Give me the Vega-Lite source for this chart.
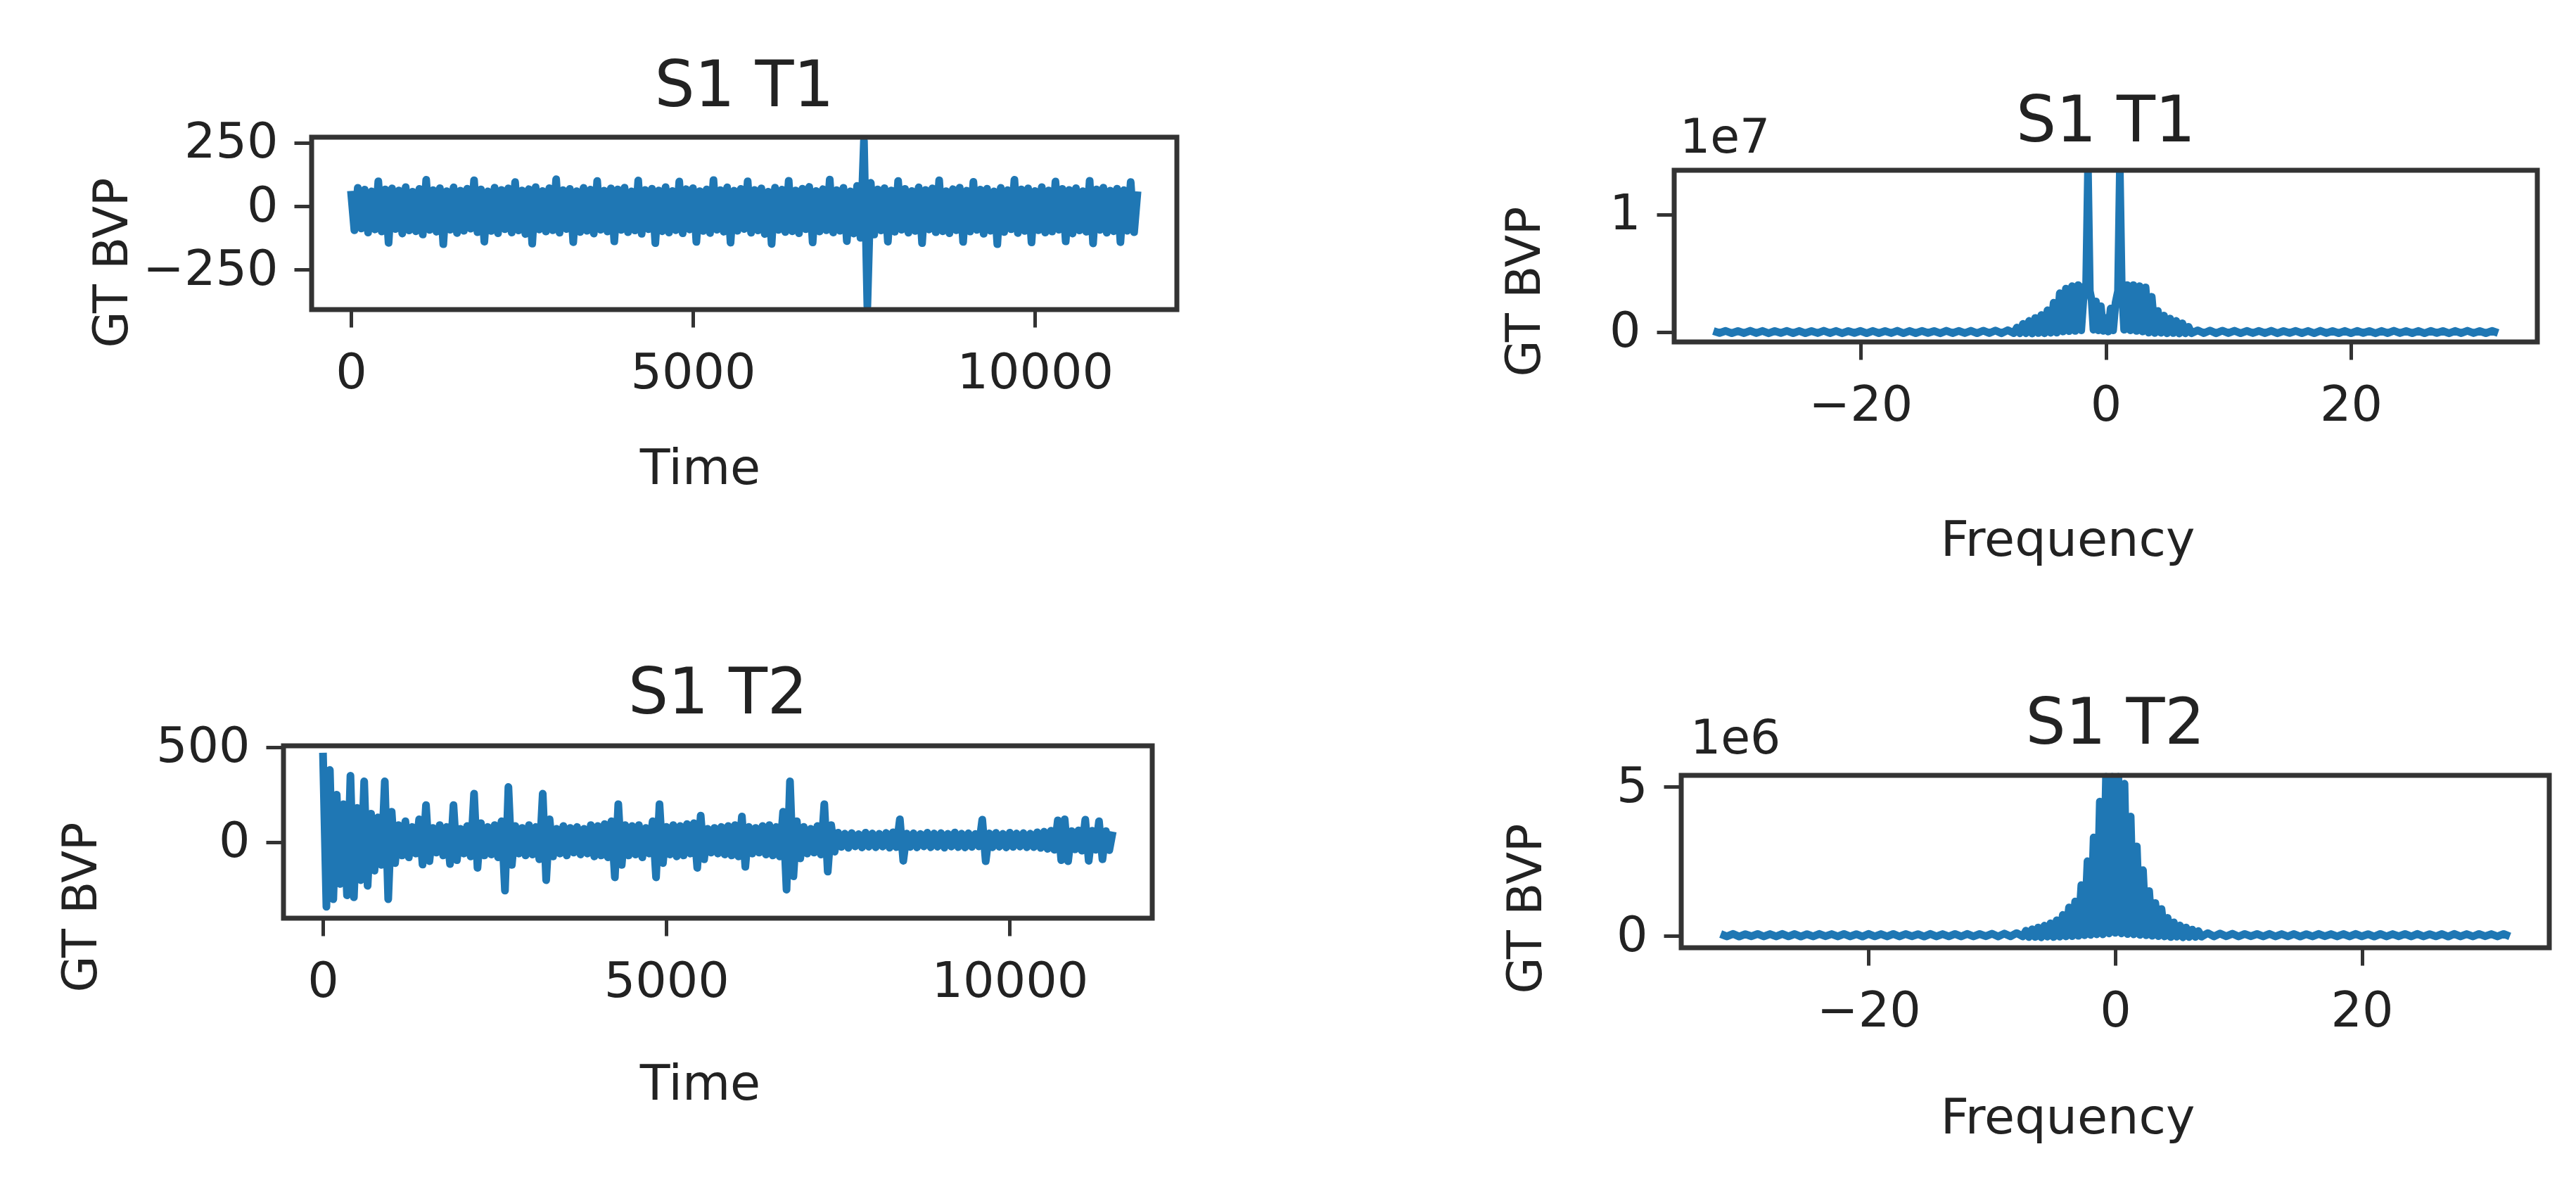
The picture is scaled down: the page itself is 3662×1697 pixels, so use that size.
{
  "$schema": "https://vega.github.io/schema/vega-lite/v6.json",
  "width": 3662,
  "height": 1697,
  "padding": 0,
  "autosize": {"type": "none"},
  "background": "white",
  "config": {
    "view": {"stroke": null},
    "font": "DejaVu Sans",
    "axis": {
      "grid": false,
      "domain": false,
      "tickColor": "#333333",
      "tickWidth": 5,
      "tickSize": 25,
      "labelFont": "DejaVu Sans",
      "labelFontSize": 70,
      "labelColor": "#222222",
      "labelLimit": 0,
      "labelOverlap": false,
      "titleFont": "DejaVu Sans",
      "titleFontWeight": "normal",
      "titleColor": "#222222",
      "titleBaseline": "middle",
      "titleAlign": "center",
      "titleLimit": 0
    },
    "axisX": {"labelPadding": 31, "titleFontSize": 70},
    "axisY": {"labelPadding": 23, "titleFontSize": 67, "titleAngle": -90}
  },
  "datasets": {
    "t1": [
{"t":0,"v":60},{"t":50,"v":-95},{"t":100,"v":72},{"t":150,"v":-88},{"t":200,"v":65},{"t":250,"v":-104},{"t":300,"v":58},{"t":350,"v":-92},{"t":400,"v":98},{"t":450,"v":-100},
{"t":500,"v":66},{"t":550,"v":-145},{"t":600,"v":70},{"t":650,"v":-90},{"t":700,"v":62},{"t":750,"v":-108},{"t":800,"v":75},{"t":850,"v":-96},{"t":900,"v":57},{"t":950,"v":-99},
{"t":1000,"v":68},{"t":1050,"v":-112},{"t":1100,"v":104},{"t":1150,"v":-94},{"t":1200,"v":63},{"t":1250,"v":-101},{"t":1300,"v":71},{"t":1350,"v":-150},{"t":1400,"v":59},{"t":1450,"v":-93},
{"t":1500,"v":74},{"t":1550,"v":-106},{"t":1600,"v":61},{"t":1650,"v":-97},{"t":1700,"v":69},{"t":1750,"v":-89},{"t":1800,"v":102},{"t":1850,"v":-103},{"t":1900,"v":66},{"t":1950,"v":-140},
{"t":2000,"v":58},{"t":2050,"v":-98},{"t":2100,"v":73},{"t":2150,"v":-107},{"t":2200,"v":64},{"t":2250,"v":-91},{"t":2300,"v":70},{"t":2350,"v":-104},{"t":2400,"v":95},{"t":2450,"v":-96},
{"t":2500,"v":62},{"t":2550,"v":-110},{"t":2600,"v":67},{"t":2650,"v":-148},{"t":2700,"v":75},{"t":2750,"v":-92},{"t":2800,"v":60},{"t":2850,"v":-100},{"t":2900,"v":71},{"t":2950,"v":-95},
{"t":3000,"v":106},{"t":3050,"v":-105},{"t":3100,"v":63},{"t":3150,"v":-90},{"t":3200,"v":68},{"t":3250,"v":-142},{"t":3300,"v":59},{"t":3350,"v":-102},{"t":3400,"v":72},{"t":3450,"v":-97},
{"t":3500,"v":65},{"t":3550,"v":-108},{"t":3600,"v":99},{"t":3650,"v":-93},{"t":3700,"v":61},{"t":3750,"v":-100},{"t":3800,"v":70},{"t":3850,"v":-139},{"t":3900,"v":66},{"t":3950,"v":-94},
{"t":4000,"v":73},{"t":4050,"v":-103},{"t":4100,"v":58},{"t":4150,"v":-96},{"t":4200,"v":101},{"t":4250,"v":-109},{"t":4300,"v":64},{"t":4350,"v":-91},{"t":4400,"v":69},{"t":4450,"v":-146},
{"t":4500,"v":62},{"t":4550,"v":-99},{"t":4600,"v":75},{"t":4650,"v":-104},{"t":4700,"v":60},{"t":4750,"v":-95},{"t":4800,"v":97},{"t":4850,"v":-107},{"t":4900,"v":67},{"t":4950,"v":-92},
{"t":5000,"v":71},{"t":5050,"v":-141},{"t":5100,"v":59},{"t":5150,"v":-98},{"t":5200,"v":66},{"t":5250,"v":-106},{"t":5300,"v":103},{"t":5350,"v":-93},{"t":5400,"v":63},{"t":5450,"v":-101},
{"t":5500,"v":74},{"t":5550,"v":-144},{"t":5600,"v":61},{"t":5650,"v":-97},{"t":5700,"v":68},{"t":5750,"v":-90},{"t":5800,"v":98},{"t":5850,"v":-105},{"t":5900,"v":64},{"t":5950,"v":-96},
{"t":6000,"v":70},{"t":6050,"v":-110},{"t":6100,"v":57},{"t":6150,"v":-149},{"t":6200,"v":73},{"t":6250,"v":-94},{"t":6300,"v":65},{"t":6350,"v":-102},{"t":6400,"v":100},{"t":6450,"v":-99},
{"t":6500,"v":62},{"t":6550,"v":-107},{"t":6600,"v":69},{"t":6650,"v":-91},{"t":6700,"v":76},{"t":6750,"v":-143},{"t":6800,"v":60},{"t":6850,"v":-100},{"t":6900,"v":67},{"t":6950,"v":-95},
{"t":7000,"v":105},{"t":7050,"v":-104},{"t":7100,"v":63},{"t":7150,"v":-97},{"t":7200,"v":72},{"t":7250,"v":-138},{"t":7300,"v":58},{"t":7350,"v":-108},{"t":7400,"v":80},{"t":7450,"v":-125},
{"t":7500,"v":258},{"t":7550,"v":-395},{"t":7600,"v":92},{"t":7650,"v":-112},{"t":7700,"v":66},{"t":7750,"v":-96},{"t":7800,"v":71},{"t":7850,"v":-140},{"t":7900,"v":62},{"t":7950,"v":-101},
{"t":8000,"v":99},{"t":8050,"v":-93},{"t":8100,"v":68},{"t":8150,"v":-105},{"t":8200,"v":60},{"t":8250,"v":-98},{"t":8300,"v":74},{"t":8350,"v":-146},{"t":8400,"v":64},{"t":8450,"v":-92},
{"t":8500,"v":70},{"t":8550,"v":-103},{"t":8600,"v":102},{"t":8650,"v":-99},{"t":8700,"v":59},{"t":8750,"v":-107},{"t":8800,"v":67},{"t":8850,"v":-95},{"t":8900,"v":73},{"t":8950,"v":-141},
{"t":9000,"v":61},{"t":9050,"v":-100},{"t":9100,"v":96},{"t":9150,"v":-94},{"t":9200,"v":65},{"t":9250,"v":-109},{"t":9300,"v":69},{"t":9350,"v":-97},{"t":9400,"v":58},{"t":9450,"v":-150},
{"t":9500,"v":72},{"t":9550,"v":-102},{"t":9600,"v":63},{"t":9650,"v":-91},{"t":9700,"v":104},{"t":9750,"v":-106},{"t":9800,"v":66},{"t":9850,"v":-98},{"t":9900,"v":70},{"t":9950,"v":-143},
{"t":10000,"v":60},{"t":10050,"v":-95},{"t":10100,"v":75},{"t":10150,"v":-104},{"t":10200,"v":62},{"t":10250,"v":-100},{"t":10300,"v":97},{"t":10350,"v":-93},{"t":10400,"v":68},{"t":10450,"v":-139},
{"t":10500,"v":64},{"t":10550,"v":-108},{"t":10600,"v":71},{"t":10650,"v":-96},{"t":10700,"v":59},{"t":10750,"v":-101},{"t":10800,"v":100},{"t":10850,"v":-147},{"t":10900,"v":66},{"t":10950,"v":-94},
{"t":11000,"v":73},{"t":11050,"v":-105},{"t":11100,"v":61},{"t":11150,"v":-99},{"t":11200,"v":69},{"t":11250,"v":-142},{"t":11300,"v":63},{"t":11350,"v":-97},{"t":11400,"v":95},{"t":11450,"v":-103},
{"t":11500,"v":58}
    ],
    "t2": [
{"t":0,"v":470},{"t":50,"v":-340},{"t":100,"v":380},{"t":150,"v":-300},{"t":200,"v":250},{"t":250,"v":-220},{"t":300,"v":200},{"t":350,"v":-280},{"t":400,"v":350},{"t":450,"v":-290},
{"t":500,"v":180},{"t":550,"v":-200},{"t":600,"v":320},{"t":650,"v":-230},{"t":700,"v":150},{"t":750,"v":-150},{"t":800,"v":130},{"t":850,"v":-120},{"t":900,"v":320},{"t":950,"v":-300},
{"t":1000,"v":160},{"t":1050,"v":-110},{"t":1100,"v":90},{"t":1150,"v":-70},{"t":1200,"v":110},{"t":1250,"v":-80},{"t":1300,"v":80},{"t":1350,"v":-60},{"t":1400,"v":120},{"t":1450,"v":-118},
{"t":1500,"v":195},{"t":1550,"v":-100},{"t":1600,"v":75},{"t":1650,"v":-55},{"t":1700,"v":90},{"t":1750,"v":-70},{"t":1800,"v":80},{"t":1850,"v":-115},{"t":1900,"v":195},{"t":1950,"v":-95},
{"t":2000,"v":70},{"t":2050,"v":-60},{"t":2100,"v":85},{"t":2150,"v":-75},{"t":2200,"v":255},{"t":2250,"v":-135},{"t":2300,"v":100},{"t":2350,"v":-70},{"t":2400,"v":80},{"t":2450,"v":-65},
{"t":2500,"v":90},{"t":2550,"v":-80},{"t":2600,"v":110},{"t":2650,"v":-255},{"t":2700,"v":290},{"t":2750,"v":-120},{"t":2800,"v":85},{"t":2850,"v":-60},{"t":2900,"v":75},{"t":2950,"v":-70},
{"t":3000,"v":90},{"t":3050,"v":-65},{"t":3100,"v":80},{"t":3150,"v":-90},{"t":3200,"v":255},{"t":3250,"v":-200},{"t":3300,"v":120},{"t":3350,"v":-75},{"t":3400,"v":70},{"t":3450,"v":-60},
{"t":3500,"v":85},{"t":3550,"v":-70},{"t":3600,"v":75},{"t":3650,"v":-55},{"t":3700,"v":80},{"t":3750,"v":-65},{"t":3800,"v":70},{"t":3850,"v":-60},{"t":3900,"v":90},{"t":3950,"v":-75},
{"t":4000,"v":85},{"t":4050,"v":-70},{"t":4100,"v":95},{"t":4150,"v":-80},{"t":4200,"v":110},{"t":4250,"v":-185},{"t":4300,"v":200},{"t":4350,"v":-120},{"t":4400,"v":90},{"t":4450,"v":-70},
{"t":4500,"v":85},{"t":4550,"v":-65},{"t":4600,"v":90},{"t":4650,"v":-80},{"t":4700,"v":75},{"t":4750,"v":-60},{"t":4800,"v":110},{"t":4850,"v":-185},{"t":4900,"v":200},{"t":4950,"v":-110},
{"t":5000,"v":80},{"t":5050,"v":-65},{"t":5100,"v":90},{"t":5150,"v":-75},{"t":5200,"v":85},{"t":5250,"v":-70},{"t":5300,"v":95},{"t":5350,"v":-60},{"t":5400,"v":100},{"t":5450,"v":-135},
{"t":5500,"v":140},{"t":5550,"v":-90},{"t":5600,"v":70},{"t":5650,"v":-55},{"t":5700,"v":75},{"t":5750,"v":-60},{"t":5800,"v":80},{"t":5850,"v":-65},{"t":5900,"v":85},{"t":5950,"v":-70},
{"t":6000,"v":90},{"t":6050,"v":-75},{"t":6100,"v":135},{"t":6150,"v":-130},{"t":6200,"v":80},{"t":6250,"v":-60},{"t":6300,"v":75},{"t":6350,"v":-55},{"t":6400,"v":85},{"t":6450,"v":-65},
{"t":6500,"v":90},{"t":6550,"v":-70},{"t":6600,"v":80},{"t":6650,"v":-75},{"t":6700,"v":160},{"t":6750,"v":-250},{"t":6800,"v":320},{"t":6850,"v":-180},{"t":6900,"v":110},{"t":6950,"v":-85},
{"t":7000,"v":80},{"t":7050,"v":-60},{"t":7100,"v":70},{"t":7150,"v":-55},{"t":7200,"v":85},{"t":7250,"v":-65},{"t":7300,"v":200},{"t":7350,"v":-155},{"t":7400,"v":90},{"t":7450,"v":-50},
{"t":7500,"v":50},{"t":7550,"v":-25},{"t":7600,"v":45},{"t":7650,"v":-30},{"t":7700,"v":48},{"t":7750,"v":-22},{"t":7800,"v":42},{"t":7850,"v":-28},{"t":7900,"v":50},{"t":7950,"v":-24},
{"t":8000,"v":46},{"t":8050,"v":-27},{"t":8100,"v":44},{"t":8150,"v":-23},{"t":8200,"v":49},{"t":8250,"v":-29},{"t":8300,"v":52},{"t":8350,"v":-26},{"t":8400,"v":120},{"t":8450,"v":-98},
{"t":8500,"v":45},{"t":8550,"v":-25},{"t":8600,"v":47},{"t":8650,"v":-28},{"t":8700,"v":43},{"t":8750,"v":-22},{"t":8800,"v":50},{"t":8850,"v":-27},{"t":8900,"v":46},{"t":8950,"v":-24},
{"t":9000,"v":48},{"t":9050,"v":-29},{"t":9100,"v":44},{"t":9150,"v":-23},{"t":9200,"v":51},{"t":9250,"v":-26},{"t":9300,"v":45},{"t":9350,"v":-28},{"t":9400,"v":47},{"t":9450,"v":-25},
{"t":9500,"v":43},{"t":9550,"v":-22},{"t":9600,"v":118},{"t":9650,"v":-100},{"t":9700,"v":46},{"t":9750,"v":-27},{"t":9800,"v":49},{"t":9850,"v":-24},{"t":9900,"v":44},{"t":9950,"v":-28},
{"t":10000,"v":50},{"t":10050,"v":-25},{"t":10100,"v":46},{"t":10150,"v":-23},{"t":10200,"v":48},{"t":10250,"v":-27},{"t":10300,"v":45},{"t":10350,"v":-26},{"t":10400,"v":52},{"t":10450,"v":-30},
{"t":10500,"v":55},{"t":10550,"v":-35},{"t":10600,"v":60},{"t":10650,"v":-40},{"t":10700,"v":115},{"t":10750,"v":-95},{"t":10800,"v":120},{"t":10850,"v":-100},{"t":10900,"v":58},{"t":10950,"v":-38},
{"t":11000,"v":62},{"t":11050,"v":-45},{"t":11100,"v":118},{"t":11150,"v":-98},{"t":11200,"v":60},{"t":11250,"v":-40},{"t":11300,"v":110},{"t":11350,"v":-90},{"t":11400,"v":58},{"t":11450,"v":-42},
{"t":11500,"v":55}
    ],
    "f1": [
{"f":-32,"v":90000},{"f":-31.5,"v":-80000},{"f":-31,"v":100000},{"f":-30.5,"v":-95000},{"f":-30,"v":85000},{"f":-29.5,"v":-90000},{"f":-29,"v":110000},{"f":-28.5,"v":-85000},{"f":-28,"v":95000},{"f":-27.5,"v":-100000},
{"f":-27,"v":90000},{"f":-26.5,"v":-80000},{"f":-26,"v":100000},{"f":-25.5,"v":-90000},{"f":-25,"v":100000},{"f":-24.5,"v":-95000},{"f":-24,"v":85000},{"f":-23.5,"v":-85000},{"f":-23,"v":110000},{"f":-22.5,"v":-90000},
{"f":-22,"v":95000},{"f":-21.5,"v":-100000},{"f":-21,"v":90000},{"f":-20.5,"v":-80000},{"f":-20,"v":100000},{"f":-19.5,"v":-95000},{"f":-19,"v":100000},{"f":-18.5,"v":-90000},{"f":-18,"v":85000},{"f":-17.5,"v":-85000},
{"f":-17,"v":110000},{"f":-16.5,"v":-95000},{"f":-16,"v":95000},{"f":-15.5,"v":-90000},{"f":-15,"v":100000},{"f":-14.5,"v":-80000},{"f":-14,"v":90000},{"f":-13.5,"v":-100000},{"f":-13,"v":110000},{"f":-12.5,"v":-90000},
{"f":-12,"v":100000},{"f":-11.5,"v":-85000},{"f":-11,"v":115000},{"f":-10.5,"v":-95000},{"f":-10,"v":120000},{"f":-9.5,"v":-90000},{"f":-9,"v":130000},{"f":-8.5,"v":-100000},{"f":-8,"v":160000},{"f":-7.5,"v":-90000},
{"f":-7.25,"v":380000},{"f":-7,"v":-100000},{"f":-6.75,"v":700000},{"f":-6.5,"v":-100000},{"f":-6.25,"v":950000},{"f":-6,"v":-120000},{"f":-5.75,"v":1200000},{"f":-5.5,"v":-80000},{"f":-5.25,"v":1450000},{"f":-5,"v":-100000},
{"f":-4.75,"v":1850000},{"f":-4.5,"v":-60000},{"f":-4.25,"v":2500000},{"f":-4,"v":-50000},{"f":-3.75,"v":3300000},{"f":-3.5,"v":50000},{"f":-3.25,"v":3700000},{"f":-3,"v":80000},{"f":-2.75,"v":3900000},{"f":-2.5,"v":100000},
{"f":-2.25,"v":4000000},{"f":-2,"v":150000},{"f":-1.75,"v":3900000},{"f":-1.6,"v":4000000},{"f":-1.45,"v":13600000},{"f":-1.3,"v":3500000},{"f":-1.15,"v":2700000},{"f":-1,"v":200000},{"f":-0.8,"v":2600000},{"f":-0.6,"v":150000},
{"f":-0.4,"v":2200000},{"f":-0.2,"v":100000},{"f":0,"v":1200000},{"f":0.2,"v":50000},{"f":0.4,"v":2000000},{"f":0.6,"v":150000},{"f":0.8,"v":2500000},{"f":1,"v":3500000},{"f":1.15,"v":13600000},{"f":1.3,"v":4000000},
{"f":1.5,"v":200000},{"f":1.75,"v":4000000},{"f":2,"v":150000},{"f":2.25,"v":4000000},{"f":2.5,"v":100000},{"f":2.75,"v":3900000},{"f":3,"v":50000},{"f":3.25,"v":3800000},{"f":3.5,"v":-50000},{"f":3.75,"v":3000000},
{"f":4,"v":-80000},{"f":4.25,"v":1800000},{"f":4.5,"v":-60000},{"f":4.75,"v":1400000},{"f":5,"v":-100000},{"f":5.25,"v":1150000},{"f":5.5,"v":-80000},{"f":5.75,"v":950000},{"f":6,"v":-120000},{"f":6.25,"v":750000},
{"f":6.5,"v":-100000},{"f":6.75,"v":450000},{"f":7,"v":-100000},
{"f":7.5,"v":150000},{"f":8,"v":-90000},{"f":8.5,"v":130000},{"f":9,"v":-100000},{"f":9.5,"v":120000},{"f":10,"v":-90000},{"f":10.5,"v":110000},{"f":11,"v":-95000},{"f":11.5,"v":100000},{"f":12,"v":-85000},
{"f":12.5,"v":100000},{"f":13,"v":-90000},{"f":13.5,"v":110000},{"f":14,"v":-100000},{"f":14.5,"v":90000},{"f":15,"v":-80000},{"f":15.5,"v":100000},{"f":16,"v":-90000},{"f":16.5,"v":95000},{"f":17,"v":-95000},
{"f":17.5,"v":110000},{"f":18,"v":-85000},{"f":18.5,"v":85000},{"f":19,"v":-90000},{"f":19.5,"v":100000},{"f":20,"v":-95000},{"f":20.5,"v":100000},{"f":21,"v":-80000},{"f":21.5,"v":90000},{"f":22,"v":-100000},
{"f":22.5,"v":95000},{"f":23,"v":-90000},{"f":23.5,"v":110000},{"f":24,"v":-85000},{"f":24.5,"v":85000},{"f":25,"v":-90000},{"f":25.5,"v":100000},{"f":26,"v":-95000},{"f":26.5,"v":100000},{"f":27,"v":-80000},
{"f":27.5,"v":90000},{"f":28,"v":-100000},{"f":28.5,"v":95000},{"f":29,"v":-90000},{"f":29.5,"v":110000},{"f":30,"v":-85000},{"f":30.5,"v":85000},{"f":31,"v":-90000},{"f":31.5,"v":100000},{"f":32,"v":-80000}
    ],
    "f2": [
{"f":-32,"v":60000},{"f":-31.5,"v":-20000},{"f":-31,"v":65000},{"f":-30.5,"v":-25000},{"f":-30,"v":55000},{"f":-29.5,"v":-15000},{"f":-29,"v":62000},{"f":-28.5,"v":-22000},{"f":-28,"v":58000},{"f":-27.5,"v":-20000},
{"f":-27,"v":65000},{"f":-26.5,"v":-18000},{"f":-26,"v":60000},{"f":-25.5,"v":-25000},{"f":-25,"v":55000},{"f":-24.5,"v":-20000},{"f":-24,"v":64000},{"f":-23.5,"v":-15000},{"f":-23,"v":58000},{"f":-22.5,"v":-22000},
{"f":-22,"v":61000},{"f":-21.5,"v":-20000},{"f":-21,"v":55000},{"f":-20.5,"v":-25000},{"f":-20,"v":65000},{"f":-19.5,"v":-18000},{"f":-19,"v":57000},{"f":-18.5,"v":-20000},{"f":-18,"v":62000},{"f":-17.5,"v":-22000},
{"f":-17,"v":60000},{"f":-16.5,"v":-15000},{"f":-16,"v":55000},{"f":-15.5,"v":-25000},{"f":-15,"v":64000},{"f":-14.5,"v":-20000},{"f":-14,"v":58000},{"f":-13.5,"v":-18000},{"f":-13,"v":61000},{"f":-12.5,"v":-22000},
{"f":-12,"v":65000},{"f":-11.5,"v":-20000},{"f":-11,"v":60000},{"f":-10.5,"v":-15000},{"f":-10,"v":70000},{"f":-9.5,"v":-22000},{"f":-9,"v":75000},{"f":-8.5,"v":-18000},{"f":-8,"v":90000},{"f":-7.5,"v":-20000},
{"f":-7.25,"v":170000},{"f":-7,"v":-40000},{"f":-6.75,"v":220000},{"f":-6.5,"v":-40000},{"f":-6.25,"v":280000},{"f":-6,"v":-50000},{"f":-5.75,"v":340000},{"f":-5.5,"v":-30000},{"f":-5.25,"v":420000},{"f":-5,"v":-40000},
{"f":-4.75,"v":520000},{"f":-4.5,"v":-30000},{"f":-4.25,"v":700000},{"f":-4,"v":-20000},{"f":-3.75,"v":950000},{"f":-3.5,"v":-10000},{"f":-3.25,"v":1150000},{"f":-3,"v":0},{"f":-2.75,"v":1700000},{"f":-2.5,"v":20000},
{"f":-2.25,"v":2500000},{"f":-2,"v":30000},{"f":-1.75,"v":3300000},{"f":-1.5,"v":50000},{"f":-1.25,"v":4500000},{"f":-1,"v":50000},{"f":-0.75,"v":5330000},{"f":-0.5,"v":80000},{"f":-0.25,"v":5330000},{"f":0,"v":100000},
{"f":0.25,"v":5330000},{"f":0.5,"v":80000},{"f":0.75,"v":5100000},{"f":1,"v":60000},{"f":1.25,"v":4000000},{"f":1.5,"v":50000},{"f":1.75,"v":3000000},{"f":2,"v":30000},{"f":2.25,"v":2200000},{"f":2.5,"v":20000},
{"f":2.75,"v":1500000},{"f":3,"v":0},{"f":3.25,"v":1100000},{"f":3.5,"v":-10000},{"f":3.75,"v":900000},{"f":4,"v":-20000},{"f":4.25,"v":600000},{"f":4.5,"v":-40000},{"f":4.75,"v":450000},{"f":5,"v":-30000},
{"f":5.25,"v":350000},{"f":5.5,"v":-50000},{"f":5.75,"v":280000},{"f":6,"v":-40000},{"f":6.25,"v":210000},{"f":6.5,"v":-40000},{"f":6.75,"v":160000},{"f":7,"v":-30000},
{"f":7.5,"v":90000},{"f":8,"v":-20000},{"f":8.5,"v":75000},{"f":9,"v":-18000},{"f":9.5,"v":70000},{"f":10,"v":-22000},{"f":10.5,"v":62000},{"f":11,"v":-15000},{"f":11.5,"v":60000},{"f":12,"v":-20000},
{"f":12.5,"v":65000},{"f":13,"v":-22000},{"f":13.5,"v":57000},{"f":14,"v":-18000},{"f":14.5,"v":61000},{"f":15,"v":-25000},{"f":15.5,"v":55000},{"f":16,"v":-20000},{"f":16.5,"v":64000},{"f":17,"v":-15000},
{"f":17.5,"v":58000},{"f":18,"v":-22000},{"f":18.5,"v":60000},{"f":19,"v":-20000},{"f":19.5,"v":65000},{"f":20,"v":-18000},{"f":20.5,"v":55000},{"f":21,"v":-25000},{"f":21.5,"v":62000},{"f":22,"v":-20000},
{"f":22.5,"v":57000},{"f":23,"v":-15000},{"f":23.5,"v":61000},{"f":24,"v":-22000},{"f":24.5,"v":64000},{"f":25,"v":-20000},{"f":25.5,"v":55000},{"f":26,"v":-18000},{"f":26.5,"v":60000},{"f":27,"v":-25000},
{"f":27.5,"v":65000},{"f":28,"v":-20000},{"f":28.5,"v":57000},{"f":29,"v":-22000},{"f":29.5,"v":62000},{"f":30,"v":-15000},{"f":30.5,"v":58000},{"f":31,"v":-20000},{"f":31.5,"v":61000},{"f":32,"v":-18000}
    ]
  },
  "resolve": {"scale": {"x": "independent", "y": "independent"}},
  "layer": [
    {
      "data": {"name": "t1"},
      "mark": {"type": "line", "color": "#1f77b4", "strokeWidth": 11, "strokeJoin": "round"},
      "encoding": {
        "x": {"field": "t", "type": "quantitative",
          "scale": {"domain": [-575, 12075], "range": [443, 1673], "nice": false, "zero": false},
          "axis": {"orient": "bottom", "offset": -1257, "values": [0, 5000, 10000], "format": "d", "title": "Time", "titleX": 995, "titleY": 226}},
        "y": {"field": "v", "type": "quantitative",
          "scale": {"domain": [-408, 272], "range": [440, 195], "nice": false, "zero": false},
          "axis": {"orient": "left", "offset": -443, "values": [-250, 0, 250], "format": "d", "title": "GT BVP", "titleX": -283, "titleY": 373}}
      }
    },
    {
      "data": {"values": [{"s": "S1 T1"}]},
      "mark": {"type": "text", "fontSize": 90, "dy": -71, "baseline": "middle", "align": "center", "color": "#222222", "font": "DejaVu Sans"},
      "encoding": {
        "x": {"datum": 5750, "type": "quantitative", "scale": {"domain": [-575, 12075], "range": [443, 1673], "nice": false, "zero": false}, "axis": null},
        "y": {"datum": 272, "type": "quantitative", "scale": {"domain": [-408, 272], "range": [440, 195], "nice": false, "zero": false}, "axis": null},
        "text": {"field": "s"}
      }
    },
    {
      "data": {"values": [{"k": "frame"}]},
      "mark": {"type": "rect", "filled": false, "color": "#333333", "strokeWidth": 7},
      "encoding": {
        "x": {"datum": -575, "type": "quantitative", "scale": {"domain": [-575, 12075], "range": [443, 1673], "nice": false, "zero": false}, "axis": null},
        "x2": {"datum": 12075},
        "y": {"datum": -408, "type": "quantitative", "scale": {"domain": [-408, 272], "range": [440, 195], "nice": false, "zero": false}, "axis": null},
        "y2": {"datum": 272}
      }
    },
    {
      "data": {"name": "f1"},
      "mark": {"type": "line", "color": "#1f77b4", "strokeWidth": 11, "strokeJoin": "round"},
      "encoding": {
        "x": {"field": "f", "type": "quantitative",
          "scale": {"domain": [-35.2, 35.2], "range": [2380, 3607], "nice": false, "zero": false},
          "axis": {"orient": "bottom", "offset": -1211, "values": [-20, 0, 20], "format": "d", "title": "Frequency", "titleX": 2939, "titleY": 282}},
        "y": {"field": "v", "type": "quantitative",
          "scale": {"domain": [-840000, 13770000], "range": [486, 242], "nice": false, "zero": false},
          "axis": {"orient": "left", "offset": -2380, "values": [0, 10000000], "labelExpr": "format(datum.value / 10000000, 'd')", "title": "GT BVP", "titleX": -212, "titleY": 414}}
      }
    },
    {
      "data": {"values": [{"s": "S1 T1"}]},
      "mark": {"type": "text", "fontSize": 90, "dy": -68, "baseline": "middle", "align": "center", "color": "#222222", "font": "DejaVu Sans"},
      "encoding": {
        "x": {"datum": 0, "type": "quantitative", "scale": {"domain": [-35.2, 35.2], "range": [2380, 3607], "nice": false, "zero": false}, "axis": null},
        "y": {"datum": 13770000, "type": "quantitative", "scale": {"domain": [-840000, 13770000], "range": [486, 242], "nice": false, "zero": false}, "axis": null},
        "text": {"field": "s"}
      }
    },
    {
      "data": {"values": [{"s": "1e7"}]},
      "mark": {"type": "text", "fontSize": 68, "dx": 8, "dy": -45, "baseline": "middle", "align": "left", "color": "#222222", "font": "DejaVu Sans"},
      "encoding": {
        "x": {"datum": -35.2, "type": "quantitative", "scale": {"domain": [-35.2, 35.2], "range": [2380, 3607], "nice": false, "zero": false}, "axis": null},
        "y": {"datum": 13770000, "type": "quantitative", "scale": {"domain": [-840000, 13770000], "range": [486, 242], "nice": false, "zero": false}, "axis": null},
        "text": {"field": "s"}
      }
    },
    {
      "data": {"values": [{"k": "frame"}]},
      "mark": {"type": "rect", "filled": false, "color": "#333333", "strokeWidth": 7},
      "encoding": {
        "x": {"datum": -35.2, "type": "quantitative", "scale": {"domain": [-35.2, 35.2], "range": [2380, 3607], "nice": false, "zero": false}, "axis": null},
        "x2": {"datum": 35.2},
        "y": {"datum": -840000, "type": "quantitative", "scale": {"domain": [-840000, 13770000], "range": [486, 242], "nice": false, "zero": false}, "axis": null},
        "y2": {"datum": 13770000}
      }
    },
    {
      "data": {"name": "t2"},
      "mark": {"type": "line", "color": "#1f77b4", "strokeWidth": 11, "strokeJoin": "round"},
      "encoding": {
        "x": {"field": "t", "type": "quantitative",
          "scale": {"domain": [-575, 12075], "range": [403, 1638], "nice": false, "zero": false},
          "axis": {"orient": "bottom", "offset": -392, "values": [0, 5000, 10000], "format": "d", "title": "Time", "titleX": 995, "titleY": 236}},
        "y": {"field": "v", "type": "quantitative",
          "scale": {"domain": [-400, 507], "range": [1305, 1060], "nice": false, "zero": false},
          "axis": {"orient": "left", "offset": -403, "values": [0, 500], "format": "d", "title": "GT BVP", "titleX": -287, "titleY": 1289}}
      }
    },
    {
      "data": {"values": [{"s": "S1 T2"}]},
      "mark": {"type": "text", "fontSize": 90, "dy": -73, "baseline": "middle", "align": "center", "color": "#222222", "font": "DejaVu Sans"},
      "encoding": {
        "x": {"datum": 5750, "type": "quantitative", "scale": {"domain": [-575, 12075], "range": [403, 1638], "nice": false, "zero": false}, "axis": null},
        "y": {"datum": 507, "type": "quantitative", "scale": {"domain": [-400, 507], "range": [1305, 1060], "nice": false, "zero": false}, "axis": null},
        "text": {"field": "s"}
      }
    },
    {
      "data": {"values": [{"k": "frame"}]},
      "mark": {"type": "rect", "filled": false, "color": "#333333", "strokeWidth": 7},
      "encoding": {
        "x": {"datum": -575, "type": "quantitative", "scale": {"domain": [-575, 12075], "range": [403, 1638], "nice": false, "zero": false}, "axis": null},
        "x2": {"datum": 12075},
        "y": {"datum": -400, "type": "quantitative", "scale": {"domain": [-400, 507], "range": [1305, 1060], "nice": false, "zero": false}, "axis": null},
        "y2": {"datum": 507}
      }
    },
    {
      "data": {"name": "f2"},
      "mark": {"type": "line", "color": "#1f77b4", "strokeWidth": 11, "strokeJoin": "round"},
      "encoding": {
        "x": {"field": "f", "type": "quantitative",
          "scale": {"domain": [-35.2, 35.2], "range": [2390, 3624], "nice": false, "zero": false},
          "axis": {"orient": "bottom", "offset": -350, "values": [-20, 0, 20], "format": "d", "title": "Frequency", "titleX": 2939, "titleY": 242}},
        "y": {"field": "v", "type": "quantitative",
          "scale": {"domain": [-400000, 5380000], "range": [1347, 1102], "nice": false, "zero": false},
          "axis": {"orient": "left", "offset": -2390, "values": [0, 5000000], "labelExpr": "format(datum.value / 1000000, 'd')", "title": "GT BVP", "titleX": -220, "titleY": 1291}}
      }
    },
    {
      "data": {"values": [{"s": "S1 T2"}]},
      "mark": {"type": "text", "fontSize": 90, "dy": -72, "baseline": "middle", "align": "center", "color": "#222222", "font": "DejaVu Sans"},
      "encoding": {
        "x": {"datum": 0, "type": "quantitative", "scale": {"domain": [-35.2, 35.2], "range": [2390, 3624], "nice": false, "zero": false}, "axis": null},
        "y": {"datum": 5380000, "type": "quantitative", "scale": {"domain": [-400000, 5380000], "range": [1347, 1102], "nice": false, "zero": false}, "axis": null},
        "text": {"field": "s"}
      }
    },
    {
      "data": {"values": [{"s": "1e6"}]},
      "mark": {"type": "text", "fontSize": 68, "dx": 13, "dy": -51, "baseline": "middle", "align": "left", "color": "#222222", "font": "DejaVu Sans"},
      "encoding": {
        "x": {"datum": -35.2, "type": "quantitative", "scale": {"domain": [-35.2, 35.2], "range": [2390, 3624], "nice": false, "zero": false}, "axis": null},
        "y": {"datum": 5380000, "type": "quantitative", "scale": {"domain": [-400000, 5380000], "range": [1347, 1102], "nice": false, "zero": false}, "axis": null},
        "text": {"field": "s"}
      }
    },
    {
      "data": {"values": [{"k": "frame"}]},
      "mark": {"type": "rect", "filled": false, "color": "#333333", "strokeWidth": 7},
      "encoding": {
        "x": {"datum": -35.2, "type": "quantitative", "scale": {"domain": [-35.2, 35.2], "range": [2390, 3624], "nice": false, "zero": false}, "axis": null},
        "x2": {"datum": 35.2},
        "y": {"datum": -400000, "type": "quantitative", "scale": {"domain": [-400000, 5380000], "range": [1347, 1102], "nice": false, "zero": false}, "axis": null},
        "y2": {"datum": 5380000}
      }
    }
  ]
}
